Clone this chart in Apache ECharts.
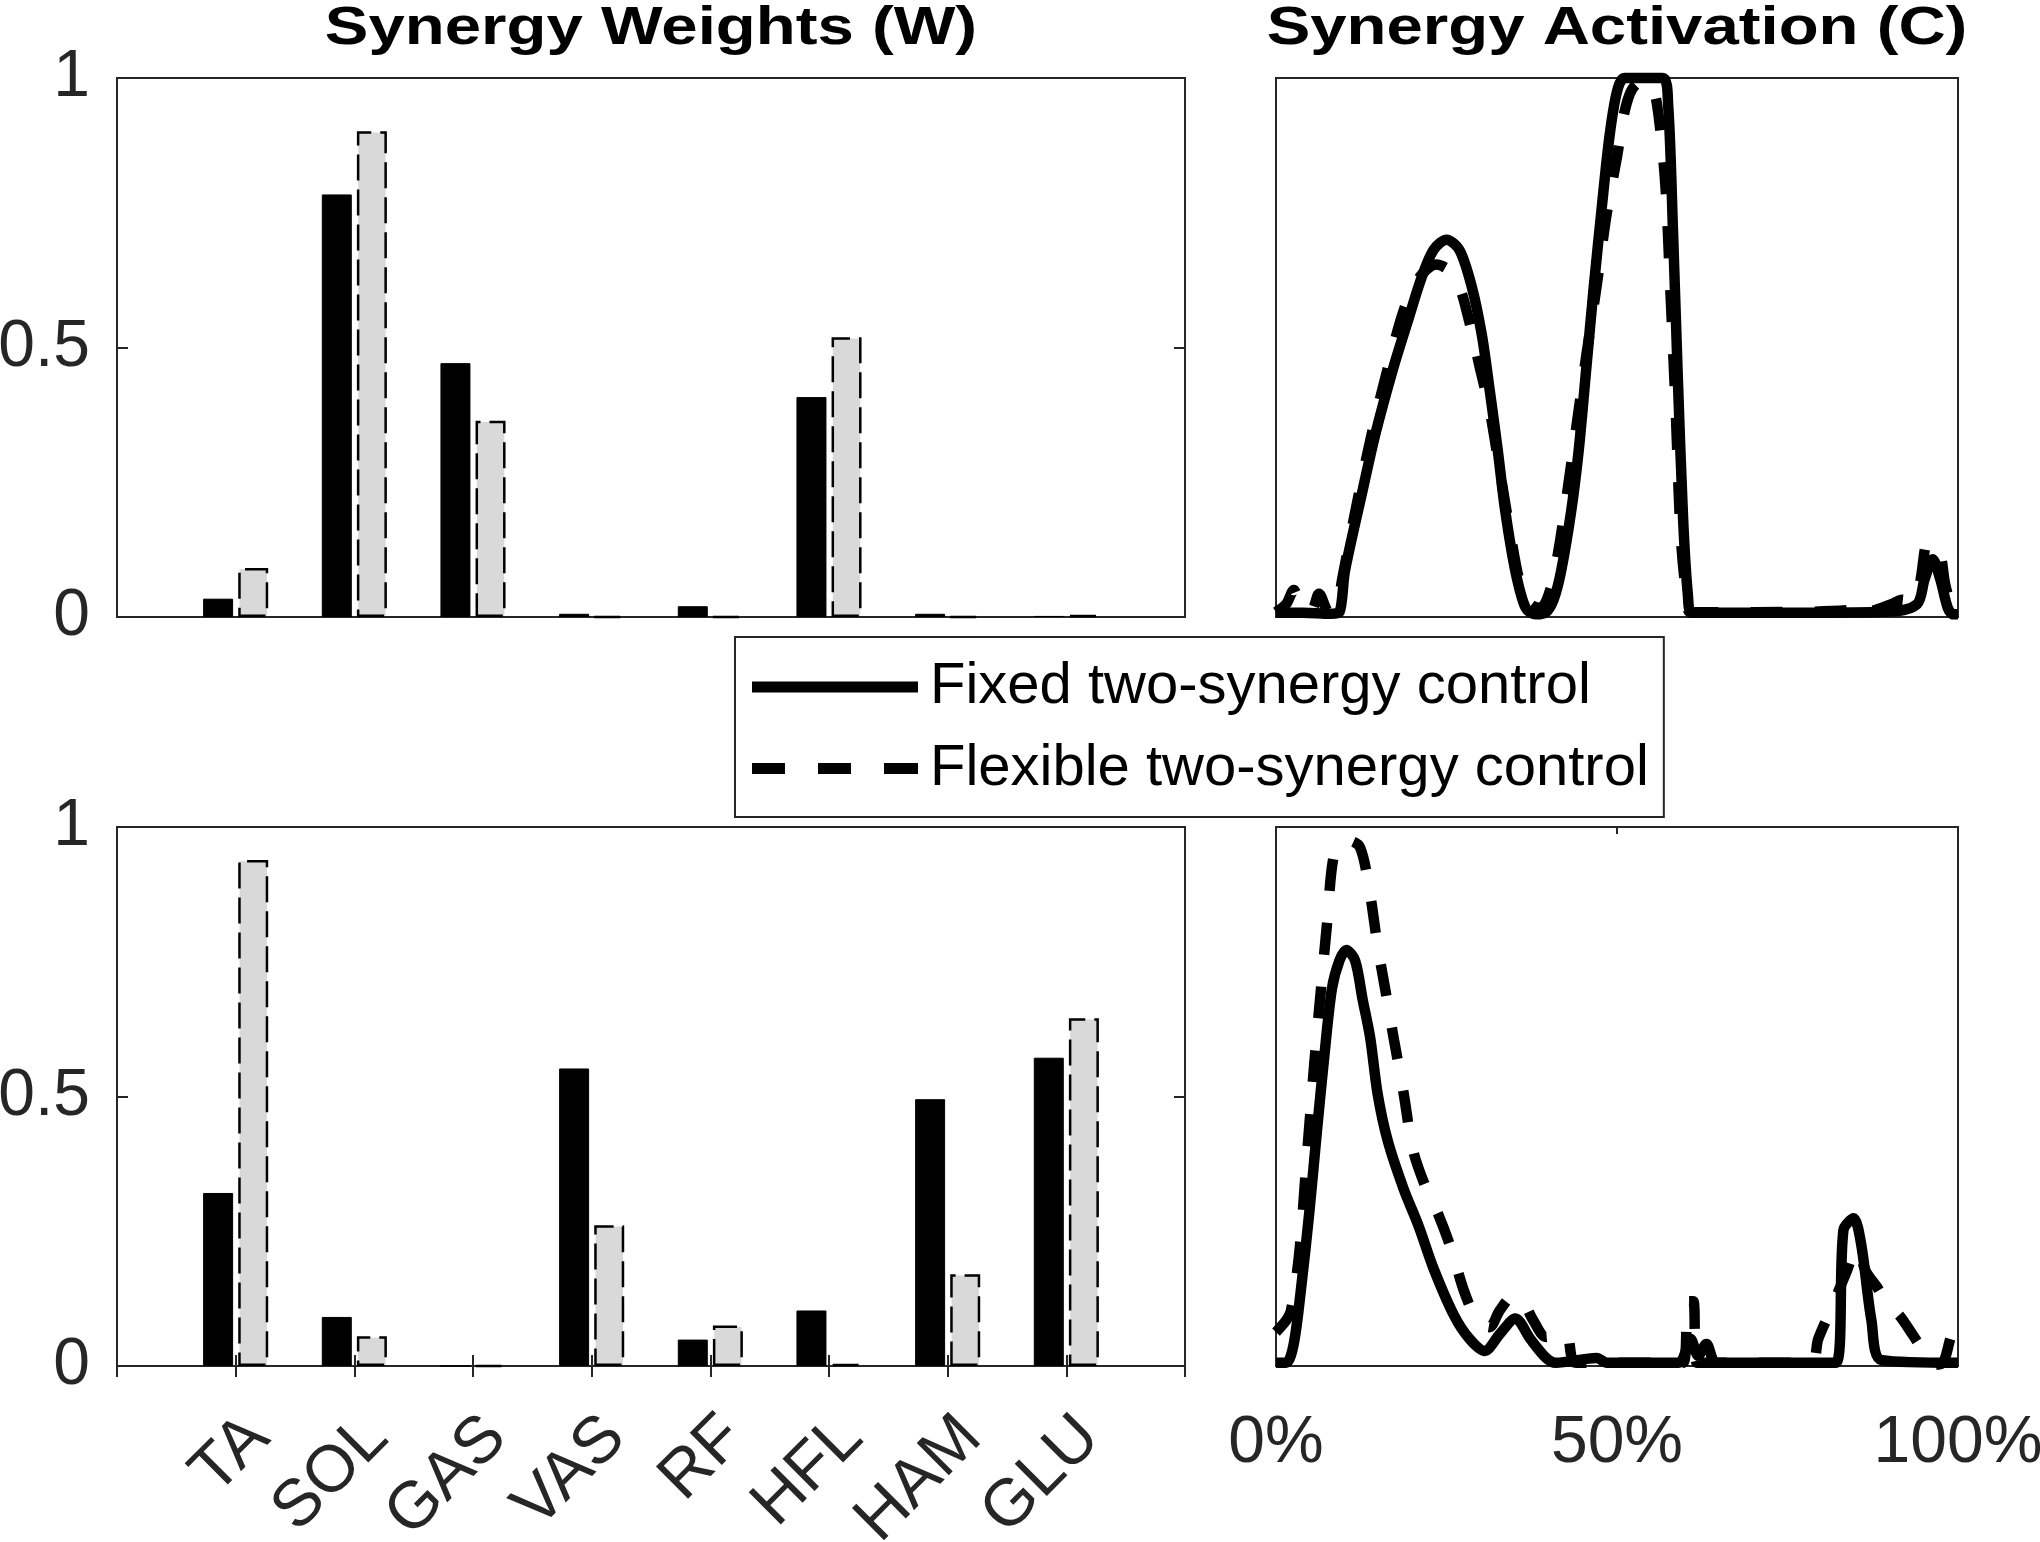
<!DOCTYPE html>
<html>
<head>
<meta charset="utf-8">
<script src="https://cdn.jsdelivr.net/npm/echarts@6/dist/echarts.min.js"></script>
<style>
html,body{margin:0;padding:0;background:#ffffff;}
#chart{width:2040px;height:1542px;}
</style>
</head>
<body>
<div id="chart"></div>
<script>
// ---------------- data ----------------
const titleW = 'Synergy Weights (W)';
const titleC = 'Synergy Activation (C)';
const fixedName = 'Fixed two-synergy control';
const flexName = 'Flexible two-synergy control';

const muscles = ['', 'TA', 'SOL', 'GAS', 'VAS', 'RF', 'HFL', 'HAM', 'GLU', ''];

// synergy 1 weights
const w1Fixed = [null, 0.034, 0.784, 0.471, 0.006, 0.020, 0.408, 0.006, 0.002, null];
const w1Flex  = [null, 0.091, 0.901, 0.364, 0, 0, 0.519, 0, 0.004, null];
// synergy 2 weights
const w2Fixed = [null, 0.321, 0.091, 0, 0.552, 0.049, 0.103, 0.495, 0.572, null];
const w2Flex  = [null, 0.939, 0.055, 0, 0.261, 0.075, 0.004, 0.170, 0.645, null];

const yTicks = [0, 0.5, 1];
const pctTicks = [0, 50, 100];

// synergy 1 activation (% gait cycle, value)
const c1FixedX = [0, 4, 8, 9.3, 10.1, 12.7, 14.6, 17.2, 19.4, 21.3, 23.1, 25.0, 26.9, 28.7, 30.2, 31.3, 32.5, 33.6, 35.1, 36.6, 38.1, 39.6, 40.7, 41.8, 43.3, 44.4, 45.5, 46.6, 47.8, 48.9, 50.0, 51.1, 56.7, 57.5, 58.2, 58.9, 59.7, 60.4, 61.0, 70, 80, 90, 94.0, 95.1, 96.3, 97.4, 98.5, 99.3, 100];
const c1FixedY = [0.008, 0.008, 0.006, 0.009, 0.085, 0.235, 0.341, 0.462, 0.552, 0.628, 0.681, 0.700, 0.681, 0.613, 0.522, 0.424, 0.311, 0.198, 0.085, 0.017, 0.005, 0.009, 0.032, 0.085, 0.198, 0.311, 0.462, 0.613, 0.764, 0.892, 0.975, 1.0, 1.0, 0.95, 0.72, 0.45, 0.18, 0.04, 0.008, 0.008, 0.008, 0.01, 0.024, 0.07, 0.107, 0.07, 0.017, 0.005, 0.005];
const c1FlexX = [0, 1.5, 2.6, 3.7, 5.2, 6.3, 7.8, 9.0, 9.7, 11.9, 14.2, 16.4, 18.7, 20.9, 23.5, 25.4, 26.9, 28.4, 29.9, 31.3, 32.8, 34.3, 35.8, 37.3, 38.8, 40.3, 41.4, 42.5, 44.0, 45.5, 47.0, 48.5, 50.0, 51.1, 52.2, 53.7, 55.2, 56.1, 57.1, 57.8, 58.6, 59.3, 60.1, 60.8, 70, 84.3, 85.4, 86.6, 90.3, 91.8, 93.3, 94.4, 95.5, 96.4, 97.4, 98.1, 99.3, 100];
const c1FlexY = [0.009, 0.024, 0.05, 0.017, 0.013, 0.043, 0.009, 0.024, 0.07, 0.213, 0.349, 0.462, 0.568, 0.628, 0.654, 0.643, 0.613, 0.545, 0.462, 0.386, 0.273, 0.16, 0.062, 0.024, 0.017, 0.054, 0.122, 0.213, 0.349, 0.485, 0.613, 0.749, 0.854, 0.937, 0.979, 0.994, 0.983, 0.93, 0.80, 0.613, 0.386, 0.16, 0.047, 0.009, 0.009, 0.013, 0.024, 0.01, 0.024, 0.032, 0.028, 0.062, 0.137, 0.122, 0.115, 0.062, 0.009, 0.005];

// synergy 2 activation
const c2FixedX = [0, 1.5, 2.6, 3.7, 4.9, 6.0, 7.1, 8.2, 9.3, 10.3, 11.6, 12.7, 13.8, 14.9, 16.4, 18.7, 20.9, 23.1, 26.1, 28.4, 30.6, 32.8, 35.1, 37.3, 39.6, 41.0, 47.0, 48.5, 59.0, 60.8, 61.9, 63.1, 64.6, 82.1, 83.2, 84.7, 85.8, 87.3, 88.8, 100];
const c2FixedY = [0.006, 0.006, 0.041, 0.147, 0.287, 0.436, 0.577, 0.70, 0.752, 0.772, 0.752, 0.68, 0.61, 0.505, 0.417, 0.329, 0.26, 0.181, 0.094, 0.05, 0.028, 0.059, 0.088, 0.05, 0.015, 0.006, 0.015, 0.006, 0.006, 0.05, 0.019, 0.041, 0.006, 0.006, 0.252, 0.274, 0.226, 0.085, 0.011, 0.006];
const c2FlexX = [0, 1.5, 2.2, 3.4, 4.5, 5.6, 6.6, 7.5, 8.6, 10.4, 12.3, 13.8, 14.9, 16.0, 17.2, 18.7, 20.1, 22.0, 23.9, 25.7, 27.6, 29.5, 31.3, 32.8, 34.7, 36.2, 37.7, 39.6, 42.5, 44.0, 59.7, 60.4, 61.2, 61.7, 78.4, 79.5, 81.3, 83.6, 85.1, 86.6, 88.1, 89.9, 91.4, 93.3, 95.1, 96.3, 97.8, 99.3, 100];
const c2FlexY = [0.063, 0.085, 0.103, 0.208, 0.384, 0.559, 0.70, 0.823, 0.954, 0.976, 0.963, 0.875, 0.779, 0.70, 0.612, 0.507, 0.40, 0.33, 0.278, 0.217, 0.138, 0.085, 0.072, 0.103, 0.129, 0.12, 0.085, 0.054, 0.063, 0.006, 0.006, 0.12, 0.12, 0.006, 0.006, 0.05, 0.103, 0.173, 0.217, 0.173, 0.147, 0.111, 0.094, 0.059, 0.024, 0.002, 0.006, 0.059, 0.059];

// ---------------- chart ----------------
const FONT = "'Liberation Sans', Arial, Helvetica, sans-serif";
const AX = '#262626';

function grid(left, top, width, height) {
  return {left, top, width, height, show: true, borderColor: AX, borderWidth: 2,
    backgroundColor: 'transparent', containLabel: false, outerBoundsMode: 'none'};
}
const hidden = {axisLine: {show: false}, axisTick: {show: false}, axisLabel: {show: false}, splitLine: {show: false}};

function catAxis(gridIndex, position, tick, label) {
  return Object.assign({type: 'category', gridIndex, position, data: muscles, boundaryGap: false}, hidden,
    tick ? {axisTick: {show: true, inside: true, length: 11, interval: 0, lineStyle: {color: AX, width: 2}}} : {},
    label ? {axisLabel: {show: true, interval: 0, rotate: 45, align: 'right', verticalAlign: 'top', margin: 38,
      fontSize: 66, color: AX, fontFamily: FONT}} : {});
}
function pctAxis(gridIndex, position, tick, label) {
  return Object.assign({type: 'value', gridIndex, position, min: pctTicks[0], max: pctTicks[pctTicks.length - 1],
    interval: pctTicks[1] - pctTicks[0]}, hidden,
    tick ? {axisTick: {show: true, inside: true, length: 7, lineStyle: {color: AX, width: 2}}} : {},
    label ? {axisLabel: {show: true, margin: 45, fontSize: 66, color: AX, fontFamily: FONT,
      formatter: v => v + '%'}} : {});
}
function valAxis(gridIndex, position, tick, label) {
  return Object.assign({type: 'value', gridIndex, position, min: yTicks[0], max: yTicks[yTicks.length - 1],
    interval: yTicks[1] - yTicks[0]}, hidden,
    tick ? {axisTick: {show: true, inside: true, length: 11, lineStyle: {color: AX, width: 2}}} : {},
    label ? {axisLabel: {show: true, margin: 27, fontSize: 66, color: AX, fontFamily: FONT}} : {});
}

function barSeries(name, data, xi, yi, flexible) {
  return {type: 'bar', name, data, xAxisIndex: xi, yAxisIndex: yi, barWidth: 30, barGap: '17%', silent: true,
    itemStyle: flexible
      ? {color: '#d9d9d9', borderColor: '#000', borderWidth: 2.5, borderType: [26, 9]}
      : {color: '#000', borderColor: '#000', borderWidth: 1}};
}
function lineSeries(name, xs, ys, xi, yi, dashed) {
  return {type: 'line', name, xAxisIndex: xi, yAxisIndex: yi, data: xs.map((x, i) => [x, ys[i]]),
    symbol: 'none', smooth: 0.3, clip: false, silent: true, z: dashed ? 4 : 3,
    lineStyle: {color: '#000', width: 10.5, type: dashed ? [32, 32] : 'solid', cap: 'butt', join: 'round'},
    itemStyle: {color: '#000'}};
}

const option = {
  animation: false,
  backgroundColor: '#ffffff',
  textStyle: {fontFamily: FONT},
  grid: [grid(117, 78, 1068, 539), grid(1276, 78, 682, 539), grid(117, 827, 1068, 539), grid(1276, 827, 682, 539)],
  xAxis: [
    catAxis(0, 'bottom', false, false),
    pctAxis(1, 'bottom', false, false),
    catAxis(2, 'bottom', true, true),
    catAxis(2, 'top', true, false),
    pctAxis(3, 'bottom', true, true),
    pctAxis(3, 'top', true, false)
  ],
  yAxis: [
    valAxis(0, 'left', true, true),
    valAxis(0, 'right', true, false),
    valAxis(1, 'left', false, false),
    valAxis(2, 'left', true, true),
    valAxis(2, 'right', true, false),
    valAxis(3, 'left', false, false)
  ],
  legend: {
    data: [{name: fixedName, icon: 'rect'},
           {name: flexName, icon: 'path://M0,0H33V11H0Z M66,0H99V11H66Z M132,0H166V11H132Z'}],
    orient: 'vertical', left: 735, top: 637, padding: [21, 15, 19.5, 17], itemGap: 23.5,
    itemWidth: 166, itemHeight: 11, selectedMode: false,
    textStyle: {fontSize: 58, color: '#000', fontFamily: FONT, padding: [0, 0, 0, 7]},
    itemStyle: {borderWidth: 0},
    borderColor: AX, borderWidth: 2, backgroundColor: '#ffffff'
  },
  graphic: [
    {type: 'text', x: 651, y: 29, scaleX: 1.21, silent: true,
      style: {text: titleW, fontSize: 54, fontWeight: 'bold', fontFamily: FONT, fill: '#000',
        align: 'center', verticalAlign: 'middle', textAlign: 'center', textVerticalAlign: 'middle'}},
    {type: 'text', x: 1617, y: 29, scaleX: 1.21, silent: true,
      style: {text: titleC, fontSize: 54, fontWeight: 'bold', fontFamily: FONT, fill: '#000',
        align: 'center', verticalAlign: 'middle', textAlign: 'center', textVerticalAlign: 'middle'}}
  ],
  series: [
    barSeries('Synergy 1 fixed', w1Fixed, 0, 0, false),
    barSeries('Synergy 1 flexible', w1Flex, 0, 0, true),
    lineSeries(fixedName, c1FixedX, c1FixedY, 1, 2, false),
    lineSeries(flexName, c1FlexX, c1FlexY, 1, 2, true),
    barSeries('Synergy 2 fixed', w2Fixed, 2, 3, false),
    barSeries('Synergy 2 flexible', w2Flex, 2, 3, true),
    lineSeries(fixedName, c2FixedX, c2FixedY, 4, 5, false),
    lineSeries(flexName, c2FlexX, c2FlexY, 4, 5, true)
  ]
};

const chart = echarts.init(document.getElementById('chart'), null, {renderer: 'canvas'});
chart.setOption(option);
</script>
</body>
</html>
